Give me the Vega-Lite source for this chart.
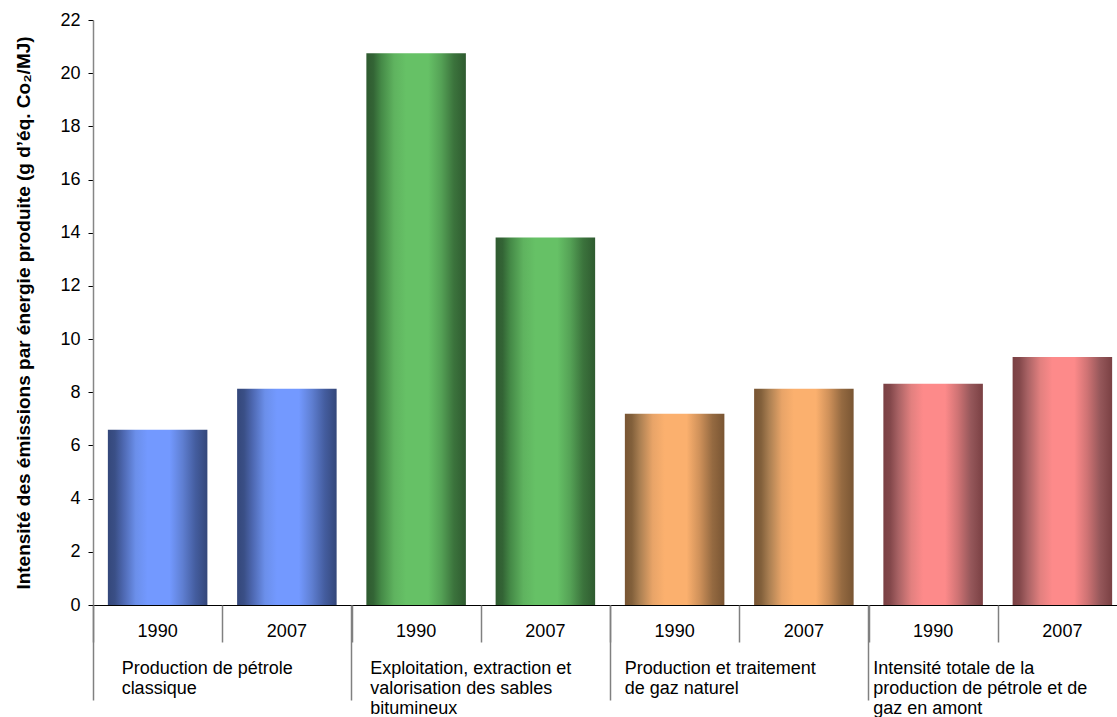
{
  "$schema": "https://vega.github.io/schema/vega-lite/v6.json",
  "width": 1024,
  "height": 585,
  "autosize": "none",
  "padding": {"left": 93, "top": 20, "right": 0, "bottom": 112},
  "background": "white",
  "config": {
    "view": {"stroke": null},
    "font": "Liberation Sans",
    "axis": {"labelFont": "Liberation Sans", "titleFont": "Liberation Sans", "labelColor": "#000000", "titleColor": "#000000"}
  },
  "data": {
    "values": [
      {"filiere": "petrole", "annee": "1990", "barre": "petrole|1990", "valeur": 6.59},
      {"filiere": "petrole", "annee": "2007", "barre": "petrole|2007", "valeur": 8.13},
      {"filiere": "sables", "annee": "1990", "barre": "sables|1990", "valeur": 20.75},
      {"filiere": "sables", "annee": "2007", "barre": "sables|2007", "valeur": 13.82},
      {"filiere": "gaz", "annee": "1990", "barre": "gaz|1990", "valeur": 7.19},
      {"filiere": "gaz", "annee": "2007", "barre": "gaz|2007", "valeur": 8.13},
      {"filiere": "total", "annee": "1990", "barre": "total|1990", "valeur": 8.32},
      {"filiere": "total", "annee": "2007", "barre": "total|2007", "valeur": 9.33}
    ]
  },
  "layer": [
    {
      "mark": {"type": "bar", "width": {"band": 0.77}},
      "encoding": {
        "x": {
          "field": "barre", "type": "nominal", "sort": null,
          "scale": {"paddingInner": 0, "paddingOuter": 0, "range": [0, 1034]},
          "axis": {
            "orient": "bottom", "title": null,
            "labelExpr": "split(datum.label, '|')[1]",
            "labelAngle": 0, "labelFontSize": 18, "labelBaseline": "top", "labelPadding": 17,
            "ticks": false, "domain": true, "domainColor": "#000000", "domainWidth": 1,
            "labelOverlap": false, "labelBound": false
          }
        },
        "y": {
          "field": "valeur", "type": "quantitative",
          "scale": {"domain": [0, 22], "nice": false, "zero": true},
          "axis": {
            "title": "Intensité des émissions par énergie produite (g d’éq. Co₂/MJ)",
            "titleFontSize": 19, "titleFontWeight": "bold",
            "titleX": -64, "titleY": 292.5, "titleAngle": -90, "titleAlign": "center", "titleBaseline": "alphabetic",
            "values": [0, 2, 4, 6, 8, 10, 12, 14, 16, 18, 20, 22],
            "grid": false, "tickSize": 5, "tickColor": "#000000", "domainColor": "#868686", "domainWidth": 1.5,
            "labelFontSize": 18, "labelPadding": 8
          }
        },
        "fill": {
          "condition": [
            {"test": "datum.filiere == 'petrole'", "value": {"x1": 0, "y1": 0, "x2": 1, "y2": 0, "gradient": "linear", "stops": [
              {"offset": 0, "color": "#34477a"}, {"offset": 0.07, "color": "#3a4f86"}, {"offset": 0.15, "color": "#4c66ae"},
              {"offset": 0.28, "color": "#6b8fea"}, {"offset": 0.4, "color": "#7399ff"}, {"offset": 0.62, "color": "#7399ff"},
              {"offset": 0.75, "color": "#5f7fd2"}, {"offset": 0.88, "color": "#445d9f"}, {"offset": 1, "color": "#34477a"}]}},
            {"test": "datum.filiere == 'sables'", "value": {"x1": 0, "y1": 0, "x2": 1, "y2": 0, "gradient": "linear", "stops": [
              {"offset": 0, "color": "#2f5b30"}, {"offset": 0.07, "color": "#336435"}, {"offset": 0.15, "color": "#458a47"},
              {"offset": 0.28, "color": "#5fb35f"}, {"offset": 0.4, "color": "#66c166"}, {"offset": 0.62, "color": "#66c166"},
              {"offset": 0.75, "color": "#55a256"}, {"offset": 0.88, "color": "#3b733c"}, {"offset": 1, "color": "#2f5b30"}]}},
            {"test": "datum.filiere == 'gaz'", "value": {"x1": 0, "y1": 0, "x2": 1, "y2": 0, "gradient": "linear", "stops": [
              {"offset": 0, "color": "#795533"}, {"offset": 0.07, "color": "#82603b"}, {"offset": 0.15, "color": "#aa7f52"},
              {"offset": 0.28, "color": "#e8a468"}, {"offset": 0.4, "color": "#fbb06e"}, {"offset": 0.62, "color": "#fbb06e"},
              {"offset": 0.75, "color": "#cf915a"}, {"offset": 0.88, "color": "#956a41"}, {"offset": 1, "color": "#795533"}]}}
          ],
          "value": {"x1": 0, "y1": 0, "x2": 1, "y2": 0, "gradient": "linear", "stops": [
            {"offset": 0, "color": "#7a4043"}, {"offset": 0.07, "color": "#84484b"}, {"offset": 0.15, "color": "#a86264"},
            {"offset": 0.28, "color": "#e2807f"}, {"offset": 0.4, "color": "#fd8a8a"}, {"offset": 0.62, "color": "#fd8a8a"},
            {"offset": 0.75, "color": "#cf7374"}, {"offset": 0.88, "color": "#95575a"}, {"offset": 1, "color": "#7a4043"}]}
        }
      }
    },
    {
      "mark": {"type": "text", "text": ""},
      "encoding": {
        "x": {
          "field": "barre", "type": "nominal", "sort": null,
          "axis": {
            "orient": "bottom", "title": null, "labels": false, "domain": false,
            "tickBand": "extent", "tickSize": 37, "tickColor": "#808080", "tickWidth": 1.5
          }
        }
      }
    },
    {
      "mark": {"type": "text", "text": ""},
      "encoding": {
        "x": {
          "field": "barre", "type": "nominal", "sort": null,
          "axis": {
            "orient": "bottom", "title": null, "labels": false, "domain": false,
            "values": ["petrole|1990", "sables|1990", "gaz|1990", "total|1990"],
            "bandPosition": 0, "tickSize": 95, "tickColor": "#808080", "tickWidth": 1.5
          }
        }
      }
    },
    {
      "mark": {"type": "text", "text": ""},
      "encoding": {
        "x": {
          "field": "barre", "type": "nominal", "sort": null,
          "axis": {
            "orient": "bottom", "title": null, "ticks": false, "domain": false,
            "values": ["petrole|1990", "sables|1990", "gaz|1990", "total|1990"],
            "labelExpr": "indexof(datum.value, 'petrole') == 0 ? ['Production de pétrole', 'classique'] : indexof(datum.value, 'sables') == 0 ? ['Exploitation, extraction et', 'valorisation des sables', 'bitumineux'] : indexof(datum.value, 'gaz') == 0 ? ['Production et traitement', 'de gaz naturel'] : ['Intensité totale de la', 'production de pétrole et de', 'gaz en amont']",
            "labelAngle": 0, "labelAlign": "left", "labelBaseline": "top", "labelFontSize": 18, "labelLineHeight": 20,
            "labelPadding": 54,
            "labelOffset": {
              "condition": [
                {"test": "datum.value == 'petrole|1990'", "value": -36},
                {"test": "datum.value == 'sables|1990'", "value": -46},
                {"test": "datum.value == 'gaz|1990'", "value": -50}
              ],
              "value": -60
            },
            "labelOverlap": false, "labelBound": false, "labelFlush": false, "labelLimit": 0
          }
        }
      }
    }
  ],
  "resolve": {"axis": {"x": "independent"}}
}
